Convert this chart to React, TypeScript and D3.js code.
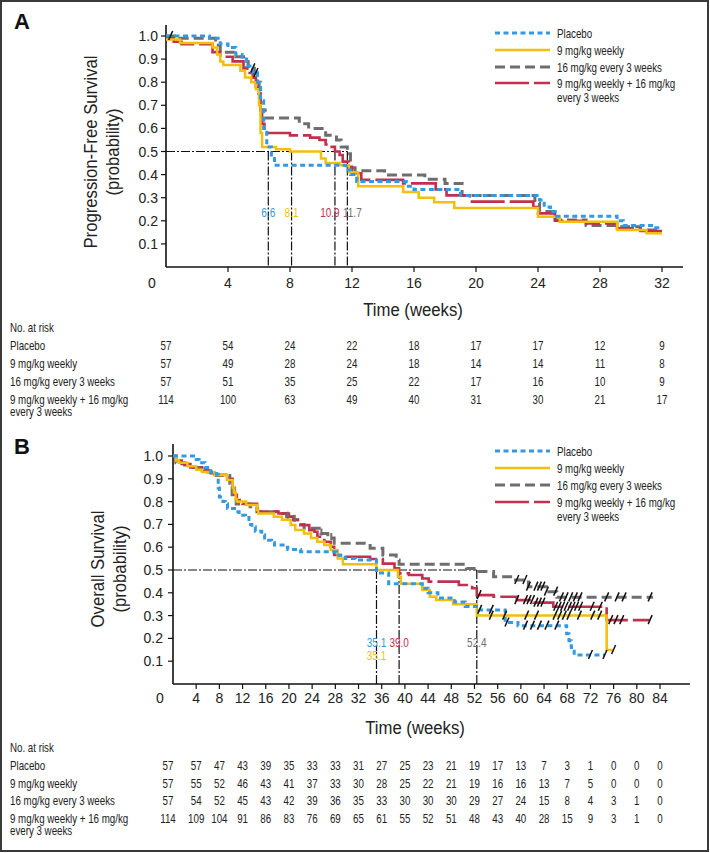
import React from 'react';
import * as d3 from 'd3';

type Pt = [number, number];

// ---------------- data ----------------
const groupNames = ['Placebo', '9 mg/kg weekly', '16 mg/kg every 3 weeks', '9 mg/kg weekly + 16 mg/kg'];
const groupNameContinuation = 'every 3 weeks';

// Panel A: progression-free survival (weeks, probability)
const pfsPlacebo: Pt[] = [[0,1],[2.8,0.99],[3.5,0.965],[4.0,0.95],[4.5,0.92],[4.9,0.9],[5.2,0.87],[5.6,0.84],[5.9,0.8],[6.1,0.72],[6.3,0.6],[6.5,0.52],[6.8,0.47],[7.0,0.44],[11.6,0.42],[11.9,0.4],[12.3,0.37],[15.5,0.35],[16.0,0.335],[19.0,0.31],[24.1,0.29],[24.4,0.26],[24.8,0.24],[25.2,0.22],[29.1,0.2],[29.5,0.18],[31.5,0.17],[32,0.17]];
const pfs9mg: Pt[] = [[0,0.985],[0.9,0.97],[3.0,0.95],[3.3,0.92],[3.5,0.89],[3.7,0.875],[4.8,0.85],[5.1,0.82],[5.5,0.8],[5.8,0.77],[6.0,0.7],[6.1,0.58],[6.2,0.52],[7.1,0.51],[8.0,0.5],[10.0,0.47],[10.3,0.45],[11.2,0.44],[11.8,0.41],[12.4,0.35],[15.3,0.325],[16.3,0.3],[17.3,0.28],[18.6,0.255],[24.0,0.218],[25.4,0.196],[29.1,0.16],[31.0,0.146],[32,0.146]];
const pfs16mg: Pt[] = [[0,1],[0.9,0.99],[3.2,0.96],[3.5,0.93],[4.5,0.91],[5.0,0.89],[5.3,0.86],[5.7,0.84],[5.9,0.8],[6.0,0.75],[6.1,0.68],[6.4,0.645],[8.6,0.62],[9.2,0.6],[10.3,0.57],[11.0,0.55],[11.3,0.52],[11.7,0.49],[11.9,0.43],[12.2,0.417],[14.1,0.398],[16.7,0.38],[18.0,0.362],[19.1,0.31],[23.8,0.277],[24.1,0.24],[25.1,0.203],[27.1,0.18],[29.1,0.174],[30.6,0.16],[32,0.16]];
const pfsCombo: Pt[] = [[0,0.99],[0.5,0.975],[1.0,0.965],[3.0,0.93],[3.5,0.91],[4.3,0.89],[5.0,0.86],[5.3,0.84],[5.6,0.82],[5.8,0.78],[6.0,0.75],[6.1,0.68],[6.2,0.62],[6.35,0.59],[6.5,0.58],[8.0,0.57],[9.3,0.56],[9.9,0.55],[10.3,0.53],[10.6,0.52],[10.9,0.5],[11.2,0.485],[11.4,0.456],[11.8,0.434],[12.0,0.406],[12.6,0.377],[15.3,0.362],[17.4,0.336],[18.1,0.31],[19.6,0.283],[23.7,0.26],[24.0,0.232],[25.1,0.2],[27.1,0.189],[29.1,0.167],[30.6,0.156],[32,0.156]];
const pfsCensor16mg = [0.3, 5.6, 5.8];

// Panel B: overall survival (weeks, probability)
const osPlacebo: Pt[] = [[0,1],[4.0,0.985],[4.5,0.97],[5.5,0.95],[6.5,0.93],[7.5,0.92],[7.8,0.86],[8.0,0.82],[8.6,0.8],[9.0,0.79],[9.4,0.77],[10.9,0.756],[11.4,0.74],[12.5,0.73],[13.1,0.7],[13.6,0.69],[14.2,0.67],[15.3,0.655],[15.8,0.63],[17.0,0.62],[17.5,0.61],[19.3,0.6],[19.8,0.59],[22.0,0.58],[28.2,0.565],[29.7,0.55],[31.5,0.544],[35.1,0.487],[37.2,0.44],[43.0,0.42],[44.0,0.4],[45.7,0.377],[48.6,0.36],[50.4,0.34],[52.7,0.325],[57.3,0.27],[59.5,0.256],[67.9,0.22],[68.3,0.19],[68.7,0.16],[69.2,0.127],[74.5,0.127]];
const os9mg: Pt[] = [[0,1],[0.5,0.98],[1.0,0.97],[2.5,0.955],[4.0,0.94],[5.0,0.93],[7.2,0.917],[9.3,0.895],[10.3,0.86],[10.5,0.84],[10.8,0.81],[11.0,0.8],[12.6,0.785],[14.5,0.763],[14.7,0.748],[17.4,0.734],[18.8,0.72],[20.3,0.697],[21.1,0.675],[22.6,0.66],[23.8,0.64],[24.9,0.624],[26.1,0.61],[27.2,0.588],[28.4,0.55],[29.3,0.525],[35.1,0.5],[38.8,0.47],[39.3,0.44],[43.0,0.412],[44.3,0.383],[45.4,0.368],[48.3,0.35],[52.4,0.3],[74.8,0.149],[76.0,0.149]];
const os16mg: Pt[] = [[0,1],[0.5,0.97],[2.0,0.96],[3.5,0.95],[5.0,0.94],[6.0,0.93],[7.5,0.915],[9.8,0.88],[10.2,0.83],[10.9,0.79],[13.3,0.777],[14.5,0.756],[18.0,0.748],[19.6,0.734],[20.8,0.72],[22.0,0.7],[22.6,0.683],[25.5,0.66],[26.7,0.64],[27.8,0.617],[34.0,0.595],[36.2,0.566],[38.5,0.544],[39.0,0.525],[50.6,0.507],[52.4,0.493],[55.3,0.47],[58.7,0.456],[61.3,0.427],[64.4,0.405],[66.2,0.38],[82.8,0.38]];
const osCombo: Pt[] = [[0,1],[0.5,0.98],[1.5,0.965],[3.0,0.95],[5.0,0.935],[6.5,0.925],[7.2,0.917],[9.8,0.9],[10.3,0.86],[10.6,0.83],[11.0,0.807],[12.0,0.79],[14.5,0.756],[18.2,0.748],[20.0,0.734],[20.8,0.72],[22.0,0.697],[23.5,0.675],[24.4,0.668],[24.9,0.646],[26.1,0.624],[27.2,0.602],[27.8,0.566],[28.9,0.558],[34.0,0.548],[36.2,0.528],[38.2,0.508],[39.0,0.485],[40.7,0.478],[43.0,0.463],[44.1,0.449],[49.3,0.434],[51.6,0.42],[52.4,0.39],[55.3,0.383],[59.3,0.368],[62.2,0.357],[65.6,0.339],[74.8,0.28],[82.2,0.28]];
const osCensorPlacebo = [52.9, 54.9, 57.6, 60.8, 62.0, 63.2, 64.5, 66.2, 72.0, 74.5];
const osCensor9mg = [54.9, 57.2, 61.0, 62.7, 65.9, 66.7, 67.5, 68.3, 70.1, 72.4, 73.6, 76.0];
const osCensor16mg = [59.3, 60.7, 61.3, 62.6, 63.2, 63.8, 64.4, 66.0, 67.0, 67.8, 68.6, 69.4, 70.2, 74.8, 76.6, 77.8, 82.3];
const osCensorCombo = [52.8, 59.3, 60.8, 61.4, 62.0, 62.6, 63.2, 63.8, 66.0, 66.6, 67.2, 67.8, 68.4, 69.0, 69.6, 70.3, 72.3, 73.7, 75.5, 76.4, 77.4, 82.3];
const osCensor16mgEarly = [19.8, 21.0, 25.6, 27.3];

const yTicks = [0.1, 0.2, 0.3, 0.4, 0.5, 0.6, 0.7, 0.8, 0.9, 1.0];
const pfsTicks = [4, 8, 12, 16, 20, 24, 28, 32];
const osTicks = [4, 8, 12, 16, 20, 24, 28, 32, 36, 40, 44, 48, 52, 56, 60, 64, 68, 72, 76, 80, 84];

// medians: [time, series index]
const pfsMedians: [number, number][] = [[6.6, 0], [8.1, 1], [10.9, 3], [11.7, 2]];
const osMedians: [number, number][] = [[35.1, 0], [35.1, 1], [39.0, 3], [52.4, 2]];

// number at risk
const pfsRiskTimes = [0, 4, 8, 12, 16, 20, 24, 28, 32];
const pfsRiskPlacebo = [57, 54, 24, 22, 18, 17, 17, 12, 9];
const pfsRisk9mg = [57, 49, 28, 24, 18, 14, 14, 11, 8];
const pfsRisk16mg = [57, 51, 35, 25, 22, 17, 16, 10, 9];
const pfsRiskCombo = [114, 100, 63, 49, 40, 31, 30, 21, 17];

const osRiskTimes = [0, 4, 8, 12, 16, 20, 24, 28, 32, 36, 40, 44, 48, 52, 56, 60, 64, 68, 72, 76, 80, 84];
const osRiskPlacebo = [57, 57, 47, 43, 39, 35, 33, 33, 31, 27, 25, 23, 21, 19, 17, 13, 7, 3, 1, 0, 0, 0];
const osRisk9mg = [57, 55, 52, 46, 43, 41, 37, 33, 30, 28, 25, 22, 21, 19, 16, 16, 13, 7, 5, 0, 0, 0];
const osRisk16mg = [57, 54, 52, 45, 43, 42, 39, 36, 35, 33, 30, 30, 30, 29, 27, 24, 15, 8, 4, 3, 1, 0];
const osRiskCombo = [114, 109, 104, 91, 86, 83, 76, 69, 65, 61, 55, 52, 51, 48, 43, 40, 28, 15, 9, 3, 1, 0];

// ---------------- styles ----------------
const COLORS = ['#3399e2', '#f2bf0c', '#6e6e6e', '#c1304e'];
const DASHES = ['5,3.5', 'none', '10,5', '34,5'];
const WIDTHS = [3, 2.5, 3, 2.6];
const DRAW_ORDER = [2, 3, 1, 0];
const SANS = "'Liberation Sans', Arial, Helvetica, sans-serif";

// condensed text: Arial-metric font squeezed horizontally
function NText({ x, y, children, anchor = 'start', size = 12.5, fill = '#222', sx = 0.78, rot = 0, dy = '0.36em' }: {
  x: number; y: number; children: React.ReactNode; anchor?: string; size?: number; fill?: string; sx?: number; rot?: number; dy?: string;
}) {
  return (
    <text transform={`translate(${x},${y})${rot ? ` rotate(${rot})` : ''} scale(${sx},1)`} textAnchor={anchor}
      dy={dy} fontFamily={SANS} fontSize={size} fill={fill}>{children}</text>
  );
}

const survAt = (data: Pt[], t: number) => {
  let s = data[0][1];
  for (const [tt, ss] of data) if (tt <= t) s = ss;
  return s;
};

type Layout = {
  letter: string; letterY: number;
  xDomain: number; xRange: [number, number]; yRange: [number, number];
  axisTop: number; axisRight: number; ticks: number[];
  zeroX: number; tickLabelY: number; tickLabelEnd: number;
  titleX: number; titleY: number;
  yLabel: string; yLabelX1: number; yLabelX2: number; yLabelY: number;
  legendY: number[]; legendY2: number;
  medianLabelY: number[]; medianLabelDx: number[];
  tableTitleY: number; tableRowY: number[]; tableRow2Y: number; firstColDx: number;
};

function Panel({ L, curves, censors, medians, riskTimes, risk }: {
  L: Layout; curves: Pt[][]; censors: { series: number; times: number[]; kind: 'slash' | 'bar' }[];
  medians: [number, number][]; riskTimes: number[]; risk: number[][];
}) {
  const x = d3.scaleLinear().domain([0, L.xDomain]).range(L.xRange);
  const y = d3.scaleLinear().domain([0, 1]).range(L.yRange);
  const line = d3.line<Pt>().x(d => x(d[0])).y(d => y(d[1])).curve(d3.curveStepAfter);
  const x0 = x(0), y0 = y(0);
  const maxMed = d3.max(medians, d => d[0]) as number;
  const medTimes = Array.from(new Set(medians.map(d => d[0])));
  return (
    <g>
      <text x={14} y={L.letterY} fontFamily={SANS} fontWeight="bold" fontSize={22} fill="#111">{L.letter}</text>
      {/* axes */}
      <line x1={x0} x2={x0} y1={L.axisTop} y2={y0} stroke="#111" strokeWidth={1.6} />
      <line x1={x0} x2={L.axisRight} y1={y0} y2={y0} stroke="#111" strokeWidth={1.6} />
      {yTicks.map(v => (
        <g key={v}>
          <line x1={x0 - 5} x2={x0} y1={y(v)} y2={y(v)} stroke="#111" strokeWidth={1.2} />
          <text x={L.tickLabelEnd} y={y(v)} dy="0.36em" textAnchor="end" fontFamily={SANS} fontSize={14} fill="#222">{d3.format('.1f')(v)}</text>
        </g>
      ))}
      {L.ticks.map(t => (
        <g key={t}>
          <line x1={x(t)} x2={x(t)} y1={y0} y2={y0 + 5} stroke="#111" strokeWidth={1.2} />
          <text x={x(t)} y={L.tickLabelY} textAnchor="middle" fontFamily={SANS} fontSize={14} fill="#222">{t}</text>
        </g>
      ))}
      <text x={L.zeroX} y={L.tickLabelY} textAnchor="middle" fontFamily={SANS} fontSize={14} fill="#222">0</text>
      <NText x={L.titleX} y={L.titleY} anchor="middle" size={19} sx={0.88} dy="0">Time (weeks)</NText>
      <NText x={L.yLabelX1} y={L.yLabelY} anchor="middle" size={19} sx={0.88} rot={-90} dy="0">{L.yLabel}</NText>
      <NText x={L.yLabelX2} y={L.yLabelY} anchor="middle" size={19} sx={0.88} rot={-90} dy="0">(probability)</NText>

      {/* median reference lines */}
      <g stroke="#111" strokeWidth={1.2} strokeDasharray="9,2,2,2" fill="none">
        <line x1={x0} x2={x(maxMed)} y1={y(0.5)} y2={y(0.5)} />
        {medTimes.map(t => <line key={t} x1={x(t)} x2={x(t)} y1={y(0.5)} y2={y0} />)}
      </g>

      {/* curves */}
      {DRAW_ORDER.map(i => (
        <path key={i} d={line(curves[i]) || ''} fill="none" stroke={COLORS[i]} strokeWidth={WIDTHS[i]}
          strokeDasharray={DASHES[i]} />
      ))}
      {censors.map((c, ci) => c.times.map((t, k) => {
        const cx = x(t), cy = y(survAt(curves[c.series], t));
        return c.kind === 'slash'
          ? <path key={`${ci}-${k}`} d={`M${cx - 2},${cy + 4}L${cx + 2},${cy - 5}`} stroke="#111" strokeWidth={1.5} fill="none" />
          : <path key={`${ci}-${k}`} d={`M${cx},${cy - 5}L${cx},${cy + 2}`} stroke={COLORS[c.series]} strokeWidth={2} fill="none" />;
      }))}

      {/* median labels */}
      {medians.map(([t, s], k) => (
        <NText key={k} x={x(t) + L.medianLabelDx[k]} y={L.medianLabelY[k]} anchor="middle" size={12.5} sx={0.8}
          fill={COLORS[s]}>{d3.format('.1f')(t)}</NText>
      ))}

      {/* legend */}
      {groupNames.map((name, i) => (
        <g key={name}>
          <line x1={495} x2={550} y1={L.legendY[i]} y2={L.legendY[i]} stroke={COLORS[i]} strokeWidth={WIDTHS[i]} strokeDasharray={DASHES[i]} />
          <NText x={557} y={L.legendY[i]}>{name}</NText>
        </g>
      ))}
      <NText x={557} y={L.legendY2}>{groupNameContinuation}</NText>

      {/* number at risk table */}
      <NText x={10} y={L.tableTitleY}>No. at risk</NText>
      {groupNames.map((name, i) => (
        <g key={name}>
          <NText x={10} y={L.tableRowY[i]}>{name}</NText>
          {risk[i].map((n, k) => (
            <NText key={k} x={x(riskTimes[k]) + (k === 0 ? L.firstColDx : 0)} y={L.tableRowY[i]} anchor="middle">{n}</NText>
          ))}
        </g>
      ))}
      <NText x={10} y={L.tableRow2Y}>{groupNameContinuation}</NText>
    </g>
  );
}

const layoutA: Layout = {
  letter: 'A', letterY: 29,
  xDomain: 32, xRange: [166, 662], yRange: [267, 36],
  axisTop: 25, axisRight: 683, ticks: pfsTicks,
  zeroX: 152, tickLabelY: 288, tickLabelEnd: 158,
  titleX: 413, titleY: 316,
  yLabel: 'Progression-Free Survival', yLabelX1: 97, yLabelX2: 119, yLabelY: 152,
  legendY: [33, 50, 67, 83], legendY2: 97,
  medianLabelY: [212, 212, 212, 212], medianLabelDx: [0, 0, -5, 5],
  tableTitleY: 327, tableRowY: [345, 363, 381, 399], tableRow2Y: 411, firstColDx: 0,
};

const layoutB: Layout = {
  letter: 'B', letterY: 454,
  xDomain: 84, xRange: [173, 660], yRange: [684, 456],
  axisTop: 444, axisRight: 690, ticks: osTicks,
  zeroX: 160, tickLabelY: 703, tickLabelEnd: 163,
  titleX: 415, titleY: 734,
  yLabel: 'Overall Survival', yLabelX1: 104, yLabelX2: 126, yLabelY: 569,
  legendY: [451, 468, 485, 502], legendY2: 516,
  medianLabelY: [642, 655, 642, 642], medianLabelDx: [0, 0, 0, 0],
  tableTitleY: 747, tableRowY: [765, 783, 800, 818], tableRow2Y: 830, firstColDx: -5,
};

export default function App() {
  return (
    <svg width={710} height={853} style={{ position: 'absolute', left: 0, top: 0, background: '#fff' }}>
      <rect x={0} y={0} width={710} height={853} fill="#fff" />
      <rect x={1} y={1} width={707} height={850} fill="none" stroke="#3a3a3a" strokeWidth={2} />
      <Panel L={layoutA} curves={[pfsPlacebo, pfs9mg, pfs16mg, pfsCombo]}
        censors={[{ series: 2, times: pfsCensor16mg, kind: 'slash' }]}
        medians={pfsMedians} riskTimes={pfsRiskTimes}
        risk={[pfsRiskPlacebo, pfsRisk9mg, pfsRisk16mg, pfsRiskCombo]} />
      <Panel L={layoutB} curves={[osPlacebo, os9mg, os16mg, osCombo]}
        censors={[
          { series: 2, times: osCensor16mgEarly, kind: 'bar' },
          { series: 0, times: osCensorPlacebo, kind: 'slash' },
          { series: 1, times: osCensor9mg, kind: 'slash' },
          { series: 2, times: osCensor16mg, kind: 'slash' },
          { series: 3, times: osCensorCombo, kind: 'slash' },
        ]}
        medians={osMedians} riskTimes={osRiskTimes}
        risk={[osRiskPlacebo, osRisk9mg, osRisk16mg, osRiskCombo]} />
    </svg>
  );
}
